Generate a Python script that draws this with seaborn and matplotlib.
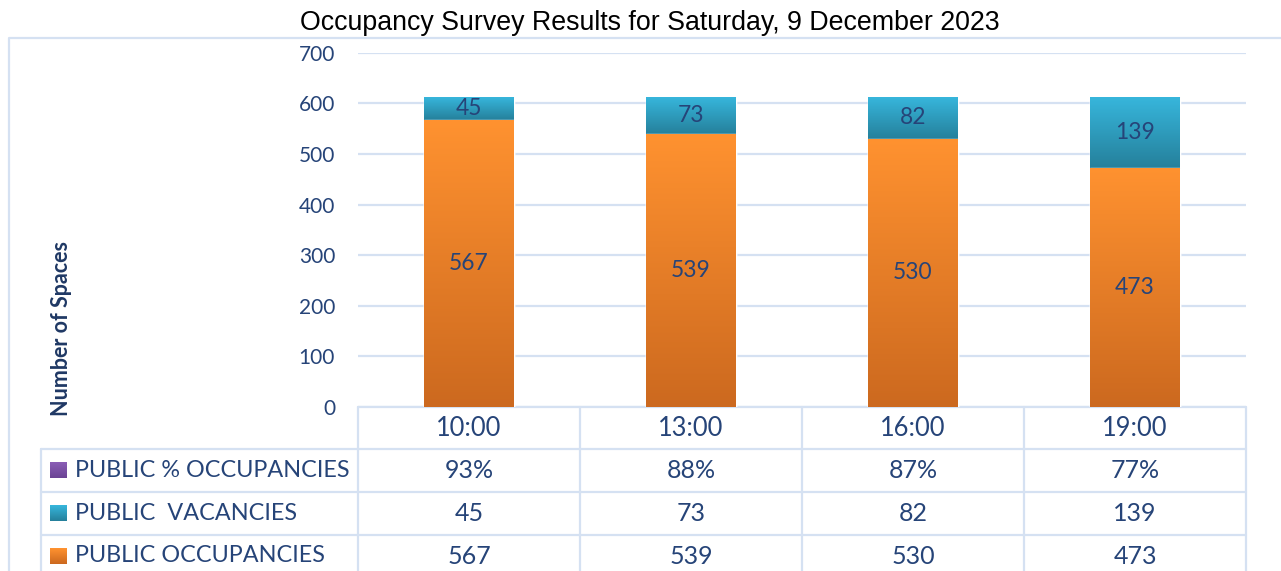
import matplotlib
matplotlib.use("Agg")
import matplotlib.pyplot as plt
import matplotlib.colors as mcolors
import seaborn as sns
import pandas as pd
import numpy as np

# chart data
times = ["10:00", "13:00", "16:00", "19:00"]
occupancies = [567, 539, 530, 473]
vacancies = [45, 73, 82, 139]
pct_occupied = [0.93, 0.88, 0.87, 0.77]
series_names = ["PUBLIC % OCCUPANCIES", "PUBLIC  VACANCIES", "PUBLIC OCCUPANCIES"]
title = "Occupancy Survey Results for Saturday, 9 December 2023"
y_ticks = [0, 100, 200, 300, 400, 500, 600, 700]

df = pd.DataFrame({"time": times, "occ": occupancies, "vac": vacancies, "pct": pct_occupied})
df["occ_vac"] = df["occ"] + df["vac"]
df["total"] = df["occ_vac"] + df["pct"]

W, H = 1281, 571
txt_blue = "#264478"
grid_col = "#D5E1F2"

sns.set_theme(style="white")
plt.rcParams["font.family"] = ["Lato", "DejaVu Sans"]

fig = plt.figure(figsize=(W / 100, H / 100), dpi=100)

# overlay axes in pixel coordinates for the frame and the data table
ov = fig.add_axes([0, 0, 1, 1], zorder=0)
ov.set_xlim(0, W)
ov.set_ylim(H, 0)
ov.axis("off")

ax = fig.add_axes([358 / W, (H - 407) / H, (1246 - 358) / W, (407 - 52.7) / H], zorder=1)
ax.patch.set_alpha(0)

# stacked bars: draw totals first, then overlay lower segments
sns.barplot(data=df, x="time", y="total", color="#7F56A8", width=0.405, ax=ax,
            order=times, saturation=1, zorder=2)
sns.barplot(data=df, x="time", y="occ_vac", color="#2E9CBF", width=0.405, ax=ax,
            order=times, saturation=1, zorder=3)
sns.barplot(data=df, x="time", y="occ", color="#F08A2A", width=0.405, ax=ax,
            order=times, saturation=1, zorder=4)


def gradient_fill(patch, y0, y1, top, bottom, z):
    x0, w = patch.get_x(), patch.get_width()
    cmap = mcolors.LinearSegmentedColormap.from_list("g", [bottom, top])
    grad = np.linspace(0, 1, 256).reshape(-1, 1)
    im = ax.imshow(grad, extent=[x0, x0 + w, y0, y1], origin="lower",
                   aspect="auto", cmap=cmap, zorder=z)
    im.set_clip_path(patch)


for i, p in enumerate(ax.containers[1]):
    gradient_fill(p, occupancies[i], occupancies[i] + vacancies[i], "#37B6DC", "#25809B", 3.5)
for i, p in enumerate(ax.containers[2]):
    gradient_fill(p, 0, occupancies[i], "#FF9230", "#CC691F", 4.5)

ax.set_ylim(0, 700)
ax.set_xlim(-0.5, len(times) - 0.5)

# value labels inside segments
for i in range(len(times)):
    ax.text(i, occupancies[i] / 2, str(occupancies[i]), ha="center", va="center",
            fontsize=16.4, color=txt_blue, zorder=6)
    ax.text(i, occupancies[i] + vacancies[i] / 2, str(vacancies[i]), ha="center",
            va="center", fontsize=16.4, color=txt_blue, zorder=6)

ax.set_yticks(y_ticks)
ax.yaxis.grid(True, color=grid_col, linewidth=1.6)
ax.set_axisbelow(True)
ax.tick_params(axis="y", colors=txt_blue, labelsize=15, length=0, pad=16.5)
ax.set_xticks([])
ax.set_xlabel("")
ax.set_ylabel("")
sns.despine(ax=ax, left=True, bottom=True)

# outer frame
ov.plot([9, 9, W], [H, 38, 38], color=grid_col, lw=1.6)

# title and axis label
fig.text(650 / W, 1 - 23 / H, title, ha="center", va="center", fontsize=19.3,
         family="Liberation Sans", color="black")
ov.text(62, 329, "Number of Spaces", rotation=90, ha="center", va="center",
        fontsize=15.5, fontweight="bold", color="#1F3864")

# data table
col_edges = [358, 580, 802, 1024, 1246]
row_edges = [407, 449, 492, 535, H]
for x in col_edges:
    ov.plot([x, x], [407, H], color=grid_col, lw=1.6)
ov.plot([41, 41], [449, H], color=grid_col, lw=1.6)
ov.plot([358, 1246], [407, 407], color=grid_col, lw=1.6)
for y in row_edges[1:4]:
    ov.plot([41, 1246], [y, y], color=grid_col, lw=1.6)

row_values = [
    [f"{round(v * 100)}%" for v in pct_occupied],
    [str(v) for v in vacancies],
    [str(v) for v in occupancies],
]
row_markers = [("#8A5DB5", "#6B4494"), ("#37B6DC", "#25809B"), ("#FF9230", "#CC691F")]
centers = [(col_edges[j] + col_edges[j + 1]) / 2 for j in range(4)]
for j, t in enumerate(times):
    ov.text(centers[j], 428, t, ha="center", va="center", fontsize=18.4, color=txt_blue)
for r in range(3):
    yc = (row_edges[r + 1] + row_edges[r + 2]) / 2 if r < 2 else 556
    top, bot = row_markers[r]
    sq_cmap = mcolors.LinearSegmentedColormap.from_list("s", [top, bot])
    ov.imshow(np.linspace(0, 1, 32).reshape(-1, 1), extent=[50, 67, yc + 8, yc - 8],
              cmap=sq_cmap, aspect="auto", origin="upper", zorder=3)
    ov.text(75, yc, series_names[r], ha="left", va="center", fontsize=16.8, color=txt_blue)
    for j in range(4):
        ov.text(centers[j], yc, row_values[r][j], ha="center", va="center",
                fontsize=18, color=txt_blue)
ov.set_xlim(0, W)
ov.set_ylim(H, 0)

fig.savefig("out.png", dpi=100)
